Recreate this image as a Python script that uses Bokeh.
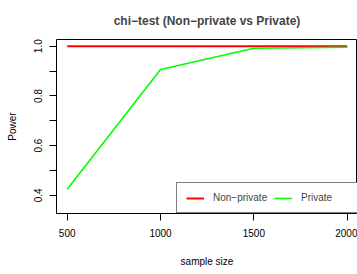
from bokeh.plotting import figure
from bokeh.models import Range1d, FixedTicker, Legend, LegendItem
from bokeh.embed import file_html
from bokeh.resources import INLINE

sample_size = [500, 1000, 1500, 2000]
power_nonprivate = [1.0, 1.0, 1.0, 1.0]
power_private = [0.425, 0.906, 0.992, 0.996]
x_ticks = [500, 1000, 1500, 2000]
y_ticks = [0.4, 0.5, 0.6, 0.7, 0.8, 0.9, 1.0]
y_tick_labels = {0.4: "0.4", 0.5: "", 0.6: "0.6", 0.7: "", 0.8: "0.8", 0.9: "", 1.0: "1.0"}

FONT = "Liberation Sans"

p = figure(width=357, height=274, output_backend="svg", toolbar_location=None,
           x_range=Range1d(442.7, 2055), y_range=Range1d(0.327, 1.027),
           min_border_left=56, min_border_right=0, min_border_top=39, min_border_bottom=61)

p.title.text = "chi\u2212test (Non\u2212private vs Private)"
p.title.text_font = FONT
p.title.text_font_size = "12px"
p.title.text_font_style = "bold"
p.title.align = "center"
p.title.standoff = 23

p.xgrid.visible = False
p.ygrid.visible = False
p.outline_line_color = "black"
p.outline_line_width = 1
p.background_fill_color = "white"
p.border_fill_color = "white"

r1 = p.line(sample_size, power_nonprivate, line_color="#FF0000", line_width=2)
r2 = p.line(sample_size, power_private, line_color="#00FF00", line_width=1.6)

for ax in (p.xaxis[0], p.yaxis[0]):
    ax.axis_line_color = None
    ax.major_tick_line_color = "black"
    ax.major_tick_out = 7
    ax.major_tick_in = 0
    ax.minor_tick_line_color = None
    ax.major_label_text_font = FONT
    ax.major_label_text_font_size = "10px"
    ax.major_label_text_color = "black"
    ax.axis_label_text_font = FONT
    ax.axis_label_text_font_size = "10px"
    ax.axis_label_text_font_style = "normal"
    ax.axis_label_text_color = "black"

p.xaxis[0].ticker = FixedTicker(ticks=x_ticks)
p.xaxis[0].axis_label = "sample size"
p.xaxis[0].major_label_standoff = 8
p.xaxis[0].axis_label_standoff = 16

p.yaxis[0].ticker = FixedTicker(ticks=y_ticks)
p.yaxis[0].major_label_overrides = y_tick_labels
p.yaxis[0].major_label_orientation = "vertical"
p.yaxis[0].axis_label = "Power"
p.yaxis[0].major_label_standoff = 7
p.yaxis[0].axis_label_standoff = 14

legend = Legend(items=[LegendItem(label="Non\u2212private", renderers=[r1]),
                       LegendItem(label="Private", renderers=[r2])],
                orientation="horizontal", location=(120, 0),
                padding=9, spacing=3, label_standoff=9, label_width=58,
                glyph_width=18, glyph_height=10, label_height=10, margin=0,
                label_text_font=FONT, label_text_font_size="10px",
                border_line_color="black", border_line_width=1,
                background_fill_color="white", background_fill_alpha=1)
p.add_layout(legend, "center")

open("out.html", "w").write(file_html(p, INLINE))
